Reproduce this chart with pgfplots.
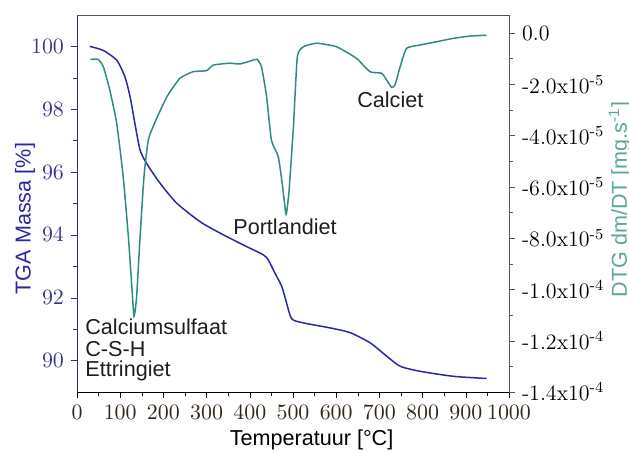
\documentclass[border=0pt]{standalone}
\usepackage{fontspec}
\setsansfont{Liberation Sans}
\usepackage{pgfplots}
\pgfplotsset{compat=1.18}
\definecolor{tgablue}{RGB}{40,40,165}
\definecolor{tganum}{RGB}{60,55,140}
\definecolor{dtgteal}{RGB}{45,140,130}
\definecolor{dtglbl}{RGB}{95,165,155}
\definecolor{axisgray}{RGB}{85,85,85}
\definecolor{xnum}{RGB}{50,40,25}
\newcommand{\sci}[2]{#1x10\textsuperscript{#2}}
\begin{document}
\begin{tikzpicture}
\pgfplotsset{
  every axis/.append style={
    scale only axis, width=216pt, height=188.5pt,
    xmin=0, xmax=1000,
    tick align=outside, major tick length=3pt, minor tick length=2pt,
    font=\fontsize{11}{13}\selectfont,
    clip=false,
    /pgf/number format/1000 sep={},
  },
}
\begin{axis}[
  axis x line*=bottom, axis y line*=left,
  ymin=89, ymax=101,
  xtick={0,100,...,1000}, minor x tick num=1,
  ytick={90,92,...,100}, minor y tick num=1,
  x axis line style={draw=black, -},
  y axis line style={draw=tgablue, -},
  xtick style={black}, ytick style={tgablue},
  xticklabel style={text=xnum},
  yticklabel style={text=tganum},
  xlabel={Temperatuur [°C]},
  ylabel={TGA Massa [\%]},
  every axis x label/.style={at={(axis description cs:0.543,-0.143)}, anchor=base, font=\sffamily\fontsize{10.8}{13}\selectfont},
  every axis y label/.style={at={(axis description cs:-0.12,0.46)}, rotate=90, anchor=center, text=tgablue, font=\sffamily\fontsize{10.8}{13}\selectfont},
]
\addplot[tgablue, line width=0.75pt, smooth, tension=0.4] coordinates {
(30,100.0) (61,99.87) (92,99.56) (111,99.03) (123,98.39) (134,97.55) (146,96.7)
(161,96.28) (192,95.65) (231,95.01) (285,94.42) (331,94.06) (385,93.68) (431,93.37)
(443,93.2) (458,92.79) (474,92.36) (485,91.84) (497,91.33) (524,91.2) (586,91.04)
(632,90.89) (678,90.57) (717,90.14) (748,89.82) (794,89.66) (871,89.5) (948,89.43)
};
\begin{scope}[font=\sffamily\fontsize{10.8}{13}\selectfont, text={rgb,255:red,30;green,30;blue,30}]
\node[anchor=base west, inner sep=0pt] at (axis cs:18.5,90.83) {Calciumsulfaat};
\node[anchor=base west, inner sep=0pt] at (axis cs:18.5,90.13) {C-S-H};
\node[anchor=base west, inner sep=0pt] at (axis cs:18.5,89.49) {Ettringiet};
\node[anchor=base west, inner sep=0pt] at (axis cs:361,94.0) {Portlandiet};
\node[anchor=base west, inner sep=0pt] at (axis cs:648,98.06) {Calciet};
\end{scope}
\end{axis}
\begin{axis}[
  axis y line*=right, axis x line*=top,
  xtick=\empty,
  ymin=-14, ymax=0.7,
  ytick={-14,-12,-10,-8,-6,-4,-2,0},
  yticklabels={\sci{-1.4}{-4},\sci{-1.2}{-4},\sci{-1.0}{-4},\sci{-8.0}{-5},\sci{-6.0}{-5},\sci{-4.0}{-5},\sci{-2.0}{-5},0.0},
  minor y tick num=1,
  x axis line style={draw=axisgray, -},
  y axis line style={draw=axisgray, -},
  ytick style={axisgray},
  yticklabel style={text=black},
  ylabel={DTG dm/DT [mg.s\textsuperscript{-1}]},
  every axis y label/.style={at={(axis description cs:1.257,0.51)}, rotate=90, anchor=center, text=dtglbl, font=\sffamily\fontsize{10.8}{13}\selectfont},
]
% DTG values in units of 1e-5 mg/s
\addplot[dtgteal, line width=0.75pt, smooth, tension=0.3] coordinates {
(31,-1.03) (49,-1.03) (61,-1.32) (76,-2.23) (92,-3.53) (107,-5.61) (119,-7.96)
(127,-9.91) (132,-11.05) (138,-10.3) (146,-7.96) (155,-5.61) (165,-4.18) (181,-3.46)
(208,-2.49) (238,-1.77) (269,-1.51) (300,-1.47) (316,-1.25) (354,-1.18) (377,-1.21)
(404,-1.08) (417,-1.03) (427,-1.32) (439,-2.49) (450,-4.18) (466,-4.83) (476,-6.0)
(484,-7.07) (491,-6.13) (501,-3.66) (510,-0.93) (524,-0.54) (555,-0.40) (601,-0.54)
(647,-0.99) (678,-1.51) (705,-1.57) (717,-1.84) (728,-2.12) (736,-2.03) (748,-1.32)
(763,-0.6) (794,-0.47) (833,-0.34) (871,-0.21) (910,-0.12) (948,-0.09)
};
\end{axis}
\pgfresetboundingbox
\path[use as bounding box] (-38.5pt,-30pt) rectangle (276pt,196pt);
\end{tikzpicture}
\end{document}
